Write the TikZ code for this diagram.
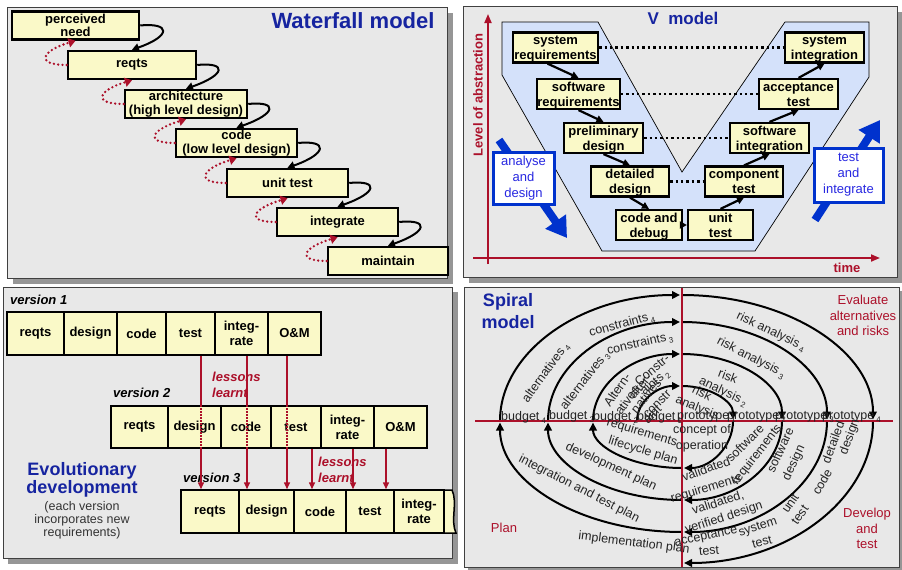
\documentclass[tikz,border=0pt]{standalone}
\usepackage{fontspec}
\setmainfont{Liberation Sans}
\usetikzlibrary{arrows.meta,calc}
\definecolor{panelbg}{RGB}{232,232,232}
\definecolor{shadowc}{RGB}{150,150,150}
\definecolor{boxy}{RGB}{250,249,200}
\definecolor{dred}{RGB}{172,16,42}
\definecolor{tblue}{RGB}{22,36,160}
\definecolor{vblue}{RGB}{212,225,250}
\definecolor{abl}{RGB}{0,50,205}
\definecolor{txtblue}{RGB}{40,40,225}
\definecolor{sptxt}{RGB}{36,36,36}
\newcommand\spsub[1]{\,\raisebox{-3pt}{\fontsize{8pt}{8pt}\selectfont #1}}
\begin{document}
\begin{tikzpicture}[x=1pt,y=-1pt,
  panel/.style={draw=black!75,line width=0.8pt,fill=panelbg},
  ttl/.style={text=tblue,inner sep=0pt,align=center},
  wfbox/.style={draw=black,line width=2.5pt,fill=boxy,minimum height=28pt,inner sep=0pt,align=center,font=\fontsize{13pt}{13.5pt}\selectfont\bfseries},
  wfarrow/.style={draw=black,line width=2pt,-{Triangle[length=7pt,width=8pt]}},
  wfback/.style={draw=dred,line width=2.6pt,line cap=round,dash pattern=on 0pt off 4.3pt,-{Triangle[length=7pt,width=9pt]}},
  vbox/.style={draw=black,line width=2.2pt,fill=boxy,minimum height=28pt,inner sep=0pt,align=center,text height=27pt,text depth=3pt,font=\fontsize{13pt}{15pt}\selectfont\bfseries},
  varrow/.style={draw=black,line width=2.2pt,-{Triangle[length=7pt,width=7pt]}},
  vdot/.style={draw=black,line width=2.4pt,dash pattern=on 2.4pt off 3pt},
  redaxis/.style={draw=dred,line width=1.8pt,-{Triangle[length=9pt,width=7pt]}},
  redlab/.style={text=dred,font=\fontsize{13pt}{15pt}\selectfont\bfseries,inner sep=0pt},
  bigarrow/.style={draw=abl,line width=8pt,-{Triangle[length=20pt,width=24pt]}},
  bluebox/.style={draw=abl,line width=3pt,fill=white,text=txtblue,align=center,inner sep=0pt,font=\fontsize{13pt}{16pt}\selectfont},
  evbox/.style={draw=black,line width=1.5pt,fill=boxy,minimum height=43pt,inner sep=0pt,align=center,font=\fontsize{13pt}{15pt}\selectfont\bfseries},
  vers/.style={anchor=west,inner sep=0pt,font=\fontsize{13pt}{15pt}\selectfont\bfseries\itshape},
  lesson/.style={anchor=west,inner sep=0pt,align=left,text=dred,font=\fontsize{13pt}{16pt}\selectfont\bfseries\itshape},
  evarrow/.style={draw=dred,line width=1.5pt,-{Triangle[length=7pt,width=6pt]}},
  evdot/.style={draw=dred,line width=1.5pt,dash pattern=on 1.5pt off 1.5pt},
  sparc/.style={draw=black,line width=2pt,-{Triangle[length=8pt,width=7.5pt]}},
  spaxis/.style={draw=dred,line width=2.5pt},
  spt/.style={text=sptxt,inner sep=0pt,font=\fontsize{12.5pt}{14pt}\selectfont},
  spred/.style={text=dred,inner sep=0pt,align=center,font=\fontsize{13pt}{15.5pt}\selectfont},
]
\useasboundingbox (0,0) rectangle (902,570);
\fill[white] (0,0) rectangle (902,570);

% ================= Waterfall =================
\fill[shadowc] (13,13) rectangle (453,284);
\draw[panel] (7,7) rectangle (447,278);
\node[ttl,font=\fontsize{22pt}{24pt}\selectfont\bfseries] (wt) at (353,21) {Waterfall model};
\node[wfbox,minimum width=127pt] (w1) at (75.5,25.5) {perceived\\need};
\node[wfbox,minimum width=128pt] (w2) at (132,65) {reqts};
\node[wfbox,minimum width=122pt] (w3) at (186,104) {architecture\\(high level design)};
\node[wfbox,minimum width=121pt] (w4) at (236.5,143) {code\\(low level design)};
\node[wfbox,minimum width=121pt] (w5) at (287.5,183) {unit test};
\node[wfbox,minimum width=121pt] (w6) at (337.5,222) {integrate};
\node[wfbox,minimum width=120pt] (w7) at (388,261) {maintain};
\foreach \a/\b in {w1/w2,w2/w3,w3/w4,w4/w5,w5/w6,w6/w7}{
  \draw[wfarrow] (\a.east) .. controls +(30,-3) and +(40,-14) .. (\b.north);
  \draw[wfback] (\b.west) .. controls +(-32,0) and +(-34,10) .. (\a.south);
}

% ================= V model =================
\fill[shadowc] (469,12) rectangle (902,283);
\draw[panel] (463,6) rectangle (897,277);
\draw[draw=black,line width=0.7pt,fill=vblue] (502,22) -- (598,22) -- (682,172) -- (785,22) -- (869,22) -- (869,77) -- (755,251) -- (602,251) -- (502,75) -- cycle;
\node[ttl,font=\fontsize{17pt}{20pt}\selectfont\bfseries] (vt) at (683,18) {V\ \ model};
\coordinate (yb) at (488,264);
\coordinate (yt) at (488,14);
\coordinate (xl) at (473,258);
\coordinate (xr) at (880,258);
\draw[redaxis] (yb) -- (yt);
\draw[redaxis] (xl) -- (xr);
\node[redlab,rotate=90] (loa) at (478,95) {Level of abstraction};
\node[redlab] (time) at (847,268) {time};
\coordinate (la1) at (499,140);
\coordinate (la2) at (567,238);
\coordinate (ra1) at (815,220);
\coordinate (ra2) at (880,120);
\draw[bigarrow] (la1) -- (la2);
\draw[bigarrow] (ra1) -- (ra2);
\node[bluebox,minimum width=61pt,minimum height=52pt] (ad) at (523.5,178) {analyse\\and\\design};
\node[bluebox,minimum width=69pt,minimum height=54pt] (ti) at (848.5,175) {test\\and\\integrate};
\node[vbox,minimum width=85pt] (sysreq) at (555.5,47.5) {system\\requirements};
\node[vbox,minimum width=79pt] (swreq) at (578.5,94) {software\\requirements};
\node[vbox,minimum width=79pt] (prelim) at (603.5,138) {preliminary\\design};
\node[vbox,minimum width=78pt,minimum height=27pt] (detail) at (630,181.5) {detailed\\design};
\node[vbox,minimum width=66pt] (cdeb) at (649,225) {code and\\debug};
\node[vbox,minimum width=65pt] (utest) at (720.5,225) {unit\\test};
\node[vbox,minimum width=78pt,minimum height=27pt] (ctest) at (744,181.5) {component\\test};
\node[vbox,minimum width=79pt] (swint) at (769.5,138) {software\\integration};
\node[vbox,minimum width=79pt] (acc) at (798.5,94) {acceptance\\test};
\node[vbox,minimum width=79pt] (sysint) at (824.5,47.5) {system\\integration};
\draw[vdot] (sysreq.east) -- (sysint.west);
\draw[vdot] (swreq.east) -- (acc.west);
\draw[vdot] (prelim.east) -- (swint.west);
\draw[vdot] (detail.east) -- (ctest.west);
\draw[varrow] ([xshift=-8pt]sysreq.south) -- (swreq.north);
\draw[varrow] (swreq.south) -- (prelim.north);
\draw[varrow] (prelim.south) -- (detail.north);
\draw[varrow] (detail.south) -- (cdeb.north);
\draw[varrow] (cdeb.east) -- (utest.west);
\draw[varrow] (utest.north) -- (ctest.south);
\draw[varrow] (ctest.north) -- (swint.south);
\draw[varrow] (swint.north) -- (acc.south);
\draw[varrow] (acc.north) -- (sysint.south);

% ================= Evolutionary =================
\fill[shadowc] (8,292) rectangle (458,564);
\draw[panel] (3,287) rectangle (452,558);
\node[vers] (v1) at (10,300) {version 1};
\node[vers] (v2) at (113,393) {version 2};
\node[vers] (v3) at (183,478) {version 3};
\node[evbox,minimum width=57pt] (a1) at (35.5,333.5) {reqts};
\node[evbox,minimum width=53pt] (a2) at (90.5,333.5) {design};
\node[evbox,minimum width=49pt] (a3) at (141.5,333.5) {code};
\node[evbox,minimum width=49pt] (a4) at (190.5,333.5) {test};
\node[evbox,minimum width=53pt] (a5) at (241.5,333.5) {integ-\\rate};
\node[evbox,minimum width=53pt] (a6) at (294.5,333.5) {O\&M};
\node[evbox,minimum width=58pt] (c1) at (210,511.5) {reqts};
\node[evbox,minimum width=55pt] (c2) at (266.5,511.5) {design};
\node[evbox,minimum width=52pt] (c3) at (320,511.5) {code};
\node[evbox,minimum width=48pt] (c4) at (370,511.5) {test};
\node[evbox,minimum width=50pt] (c5) at (419,511.5) {integ-\\rate};
\draw[draw=black,line width=1.5pt,fill=boxy] (444,490) -- (452,490) .. controls (458,503) and (450,520) .. (456,533) -- (444,533) -- cycle;
\coordinate (p1) at ([xshift=10.5pt]a4.south);
\coordinate (p2) at ([xshift=5.5pt]a5.south);
\coordinate (p3) at ([xshift=-7.5pt]a6.south);
\draw[evarrow] (p1) -- (p1 |- c1.north);
\draw[evarrow] (p2) -- (p2 |- c2.north);
\draw[evarrow] (p3) -- (p3 |- c2.north);
\node[evbox,minimum width=57pt,minimum height=42pt] (b1) at (139.5,427) {reqts};
\node[evbox,minimum width=53pt,minimum height=42pt] (b2) at (194.5,427) {design};
\node[evbox,minimum width=50pt,minimum height=42pt] (b3) at (246,427) {code};
\node[evbox,minimum width=50pt,minimum height=42pt] (b4) at (296,427) {test};
\node[evbox,minimum width=53pt,minimum height=42pt] (b5) at (347.5,427) {integ-\\rate};
\node[evbox,minimum width=53pt,minimum height=42pt] (b6) at (400.5,427) {O\&M};
\draw[evdot] (p1 |- b1.north) -- (p1 |- b1.south);
\draw[evdot] (p2 |- b1.north) -- (p2 |- b1.south);
\draw[evdot] (p3 |- b1.north) -- (p3 |- b1.south);
\coordinate (q1) at ([xshift=16pt]b4.south);
\coordinate (q2) at ([xshift=5.5pt]b5.south);
\coordinate (q3) at ([xshift=-14.5pt]b6.south);
\draw[evarrow] (q1) -- (q1 |- c3.north);
\draw[evarrow] (q2) -- (q2 |- c4.north);
\draw[evarrow] (q3) -- (q3 |- c4.north);
\node[lesson] (l1) at (212,385) {lessons\\learnt};
\node[lesson] (l2) at (318,469.5) {lessons\\learnt};
\node[ttl,font=\fontsize{18pt}{18pt}\selectfont\bfseries] (evt) at (82,480) {Evolutionary\\development};
\node[text=black!80,inner sep=0pt,align=center,font=\fontsize{12.5pt}{13pt}\selectfont] (evs) at (82,520) {(each version\\incorporates new\\requirements)};

% ================= Spiral =================
\fill[shadowc] (468,291) rectangle (902,570);
\draw[panel] (464,287) rectangle (899,567);
\draw[sparc,shorten >=2pt] (637,421) arc[start angle=180,end angle=90,x radius=45pt,y radius=35pt];
\draw[sparc,shorten >=1.5pt] (682,386) arc[start angle=90,end angle=0,x radius=51pt,y radius=35pt];
\draw[sparc,shorten >=2pt] (733,421) arc[start angle=0,end angle=-90,x radius=51pt,y radius=47pt];
\draw[sparc,shorten >=1.5pt] (682,468) arc[start angle=-90,end angle=-180,x radius=89pt,y radius=47pt];
\draw[sparc,shorten >=2pt] (593,421) arc[start angle=180,end angle=90,x radius=89pt,y radius=67pt];
\draw[sparc,shorten >=1.5pt] (682,354) arc[start angle=90,end angle=0,x radius=100pt,y radius=67pt];
\draw[sparc,shorten >=2pt] (782,421) arc[start angle=0,end angle=-90,x radius=100pt,y radius=79pt];
\draw[sparc,shorten >=1.5pt] (682,500) arc[start angle=-90,end angle=-180,x radius=134pt,y radius=79pt];
\draw[sparc,shorten >=2pt] (548,421) arc[start angle=180,end angle=90,x radius=134pt,y radius=99pt];
\draw[sparc,shorten >=1.5pt] (682,322) arc[start angle=90,end angle=0,x radius=145pt,y radius=99pt];
\draw[sparc,shorten >=2pt] (827,421) arc[start angle=0,end angle=-90,x radius=145pt,y radius=111pt];
\draw[sparc,shorten >=1.5pt] (682,532) arc[start angle=-90,end angle=-180,x radius=182pt,y radius=111pt];
\draw[sparc,shorten >=2pt] (500,421) arc[start angle=180,end angle=90,x radius=182pt,y radius=126pt];
\draw[sparc,shorten >=1.5pt] (682,295) arc[start angle=90,end angle=0,x radius=191pt,y radius=126pt];
\draw[sparc,shorten >=2pt] (873,421) arc[start angle=0,end angle=-90,x radius=191pt,y radius=142pt];
\coordinate (hl) at (475,421);
\coordinate (hr) at (893,421);
\coordinate (vtop) at (682,288);
\coordinate (vbot) at (682,567);
\draw[spaxis] (hl) -- (hr);
\draw[spaxis] (vtop) -- (vbot);
\node[ttl,font=\fontsize{18pt}{22pt}\selectfont\bfseries] (spt) at (508,311) {Spiral\\model};
\node[spred] (ev) at (863,315.5) {Evaluate\\alternatives\\and risks};
\node[spred] (dt) at (867,528.5) {Develop\\and\\test};
\node[spred] (pl) at (504,528) {Plan};
% top-left
\node[spt,rotate=15] (s1) at (622,325) {constraints\spsub{4}};
\node[spt,rotate=54] (s2) at (546,373) {alternatives\spsub{4}};
\node[spt,rotate=13] (s3) at (640,344) {constraints\spsub{3}};
\node[spt,rotate=52] (s4) at (585,381) {alternatives\spsub{3}};
\node[spt,rotate=55] (s5) at (617,390) {Altern-};
\node[spt,rotate=55] (s6) at (627,400) {atives};
\node[spt,rotate=40] (s7) at (652,370) {Constr-};
\node[spt,rotate=40] (s8) at (655,383) {aints\spsub{2}};
\node[spt,rotate=50] (s9) at (640,386) {alter-};
\node[spt,rotate=50] (s10) at (646,396) {natives};
\node[spt,rotate=45] (s11) at (657,404) {constr};
\node[spt,rotate=45] (s12) at (652,414) {aint};
% top-right
\node[spt,rotate=-25] (s13) at (771,332) {risk analysis\spsub{4}};
\node[spt,rotate=-27] (s14) at (751,358) {risk analysis\spsub{3}};
\node[spt,rotate=-20] (s15) at (728,376) {risk};
\node[spt,rotate=-25] (s16) at (723,392) {analysis\spsub{2}};
\node[spt,rotate=-25] (s17) at (702,393) {risk};
\node[spt,rotate=-22] (s18) at (697,408) {analysis};
% axis labels
\node[spt,anchor=west] (bu4) at (501,417) {budget\spsub{4}};
\node[spt,anchor=west] (bu3) at (549,417) {budget\spsub{3}};
\node[spt,anchor=west] (bu2) at (593,417) {budget\spsub{2}};
\node[spt,anchor=west] (bu1) at (637,417) {budget\spsub{1}};
\node[spt,anchor=west] (pr1) at (677,417) {prototype\spsub{1}};
\node[spt,anchor=west] (pr2) at (727,417) {prototype\spsub{2}};
\node[spt,anchor=west] (pr3) at (775,417) {prototype\spsub{3}};
\node[spt,anchor=west] (pr4) at (822,417) {prototype\spsub{4}};
% centre / bottom-left
\node[spt] (s19) at (702,430) {concept of};
\node[spt] (s20) at (702,446) {operation};
\node[spt,rotate=-17] (s21) at (642,433) {requirements};
\node[spt,rotate=-17] (s22) at (643,451) {lifecycle plan};
\node[spt,rotate=-25] (s23) at (611,467) {development plan};
\node[spt,rotate=-27] (s24) at (579,489) {integration and test plan};
\node[spt,rotate=-7] (s25) at (634,543) {implementation plan};
% bottom-right
\node[spt,rotate=20] (s26) at (706,469) {validated};
\node[spt,rotate=45] (s27) at (745,443) {software};
\node[spt,rotate=52] (s28) at (757,455) {requirements};
\node[spt,rotate=17] (s29) at (706,489) {requirements};
\node[spt,rotate=65] (s30) at (780,450) {software};
\node[spt,rotate=65] (s31) at (794,463) {design};
\node[spt,rotate=18] (s32) at (718,503) {validated,};
\node[spt,rotate=18] (s33) at (724,518) {verified design};
\node[spt,rotate=70] (s34) at (833,442) {detailed};
\node[spt,rotate=70] (s35) at (850,437) {design};
\node[spt,rotate=60] (s36) at (822,482) {code};
\node[spt,rotate=55] (s37) at (790,503) {unit};
\node[spt,rotate=55] (s38) at (800,515) {test};
\node[spt,rotate=18] (s39) at (758,528) {system};
\node[spt,rotate=15] (s40) at (762,542) {test};
\node[spt,rotate=12] (s41) at (706,537) {acceptance};
\node[spt,rotate=5] (s42) at (709,551) {test};
\end{tikzpicture}
\end{document}
